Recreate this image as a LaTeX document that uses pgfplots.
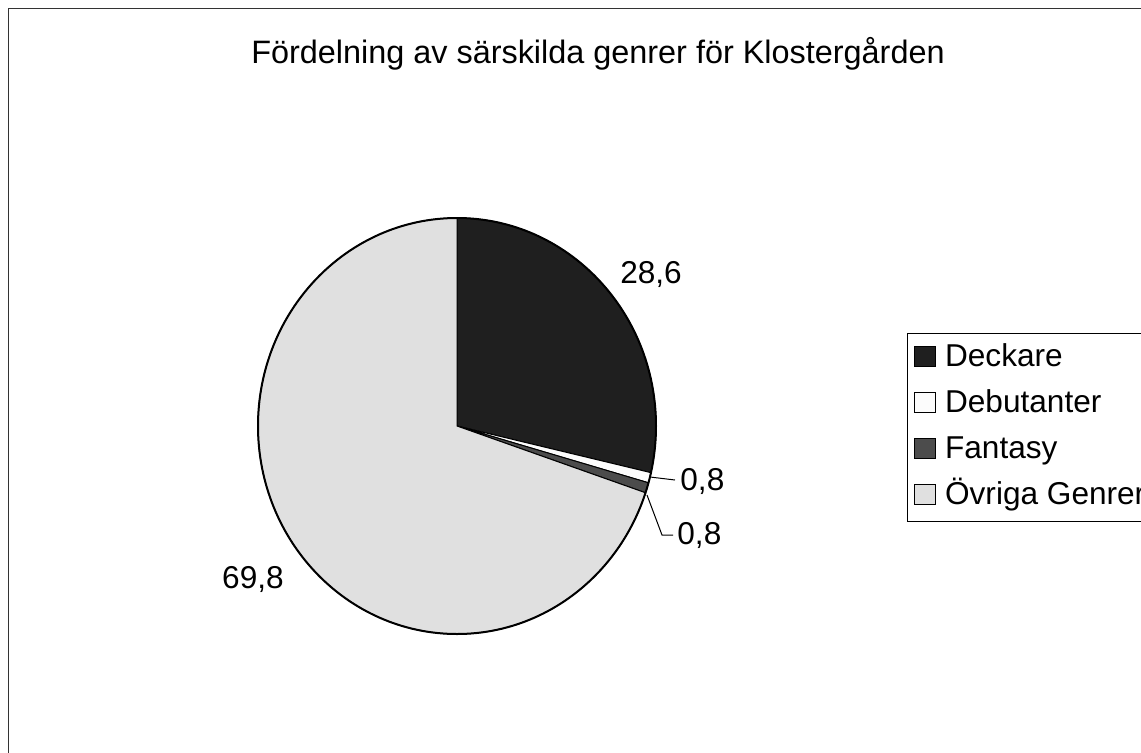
\documentclass[border=0pt]{standalone}
\usepackage{pgfplots}
\pgfplotsset{compat=1.18}
\usepackage{fontspec}
\setmainfont{Liberation Sans}

\definecolor{deck}{gray}{0.12}
\definecolor{debu}{gray}{0.99}
\definecolor{fant}{gray}{0.30}
\definecolor{ovri}{gray}{0.88}

% shares in percent, clockwise from 12 o'clock
\def\vA{28.6}\def\vB{0.8}\def\vC{0.8}\def\vD{69.8}
\pgfmathsetmacro\aA{90-3.6*\vA}
\pgfmathsetmacro\aB{\aA-3.6*\vB}
\pgfmathsetmacro\aC{\aB-3.6*\vC}
\pgfmathsetmacro\aD{\aC-3.6*\vD}

\begin{document}
\begin{tikzpicture}
\begin{axis}[
    width=570.5pt, height=376pt,
    scale only axis,
    xmin=0, xmax=1141, ymin=0, ymax=752,
    enlargelimits=false,
    hide axis,
    clip=false,
    font=\fontsize{15.8}{19}\selectfont,
    legend style={at={(axis cs:907,419)}, anchor=north west,
        draw=black, line width=0.5pt, fill=white,
        font=\fontsize{15.8}{19}\selectfont,
        nodes={inner sep=2pt, text height=11.5pt, text depth=3.3pt},
        row sep=4.2pt, inner xsep=1pt, inner ysep=3pt},
    legend cell align=left,
    legend image code/.code={\draw[#1,draw=black,line width=0.75pt] (2.5pt,-4.1pt) rectangle (13pt,5.9pt); \path[draw=none,fill=none] (0pt,0pt) -- (15.8pt,0pt);},
]
\coordinate (bl) at (axis cs:0,0);
\coordinate (tr) at (axis cs:1141,752);

% chart frame
\draw[line width=0.6pt, black!80] (axis cs:8.5,-50) -- (axis cs:8.5,743.5) -- (axis cs:1200,743.5);

\node[anchor=base, font=\fontsize{16.2}{19}\selectfont] at (axis cs:598,689) {Fördelning av särskilda genrer för Klostergården};

% wedges
\filldraw[fill=deck, draw=black, line width=0.5pt] (axis cs:457,326) -- ++(90:99.5pt and 104pt) arc[start angle=90, end angle=\aA, x radius=99.5pt, y radius=104pt] -- cycle;
\filldraw[fill=debu, draw=black, line width=0.5pt] (axis cs:457,326) -- ++(\aA:99.5pt and 104pt) arc[start angle=\aA, end angle=\aB, x radius=99.5pt, y radius=104pt] -- cycle;
\filldraw[fill=fant, draw=black, line width=0.5pt] (axis cs:457,326) -- ++(\aB:99.5pt and 104pt) arc[start angle=\aB, end angle=\aC, x radius=99.5pt, y radius=104pt] -- cycle;
\filldraw[fill=ovri, draw=black, line width=0.5pt] (axis cs:457,326) -- ++(\aC:99.5pt and 104pt) arc[start angle=\aC, end angle=\aD, x radius=99.5pt, y radius=104pt] -- cycle;
\draw[line width=1pt] (axis cs:457,326) ellipse[x radius=99.5pt, y radius=104pt];

% data labels
\node[anchor=base] at (axis cs:651,469) {28,6};
\node[anchor=base west, inner sep=0pt] at (axis cs:680,262) {0,8};
\node[anchor=base west, inner sep=0pt] at (axis cs:677,208) {0,8};
\node[anchor=base] at (axis cs:253,164) {69,8};
\draw[line width=0.5pt] (axis cs:650,275) -- (axis cs:675,272);
\draw[line width=0.5pt] (axis cs:647,257) -- (axis cs:662,217) -- (axis cs:673,217);

\addlegendimage{fill=deck}
\addlegendentry{Deckare}
\addlegendimage{fill=debu}
\addlegendentry{Debutanter}
\addlegendimage{fill=fant}
\addlegendentry{Fantasy}
\addlegendimage{fill=ovri}
\addlegendentry{Övriga Genrer}
\end{axis}
\pgfresetboundingbox
\useasboundingbox (bl) rectangle (tr);
\end{tikzpicture}
\end{document}
